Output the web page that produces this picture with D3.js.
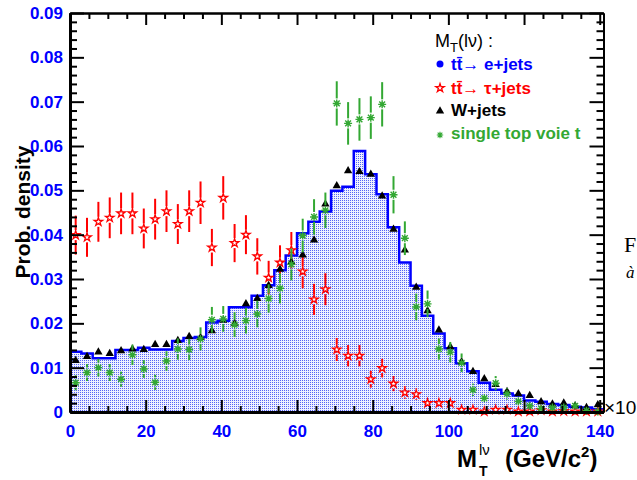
<!DOCTYPE html>
<html>
<head>
<meta charset="utf-8">
<script src="https://cdn.jsdelivr.net/npm/d3@7"></script>
<style>
body { margin: 0; background: #fff; }
svg { display: block; }
text { font-family: "Liberation Sans", Arial, sans-serif; }
</style>
</head>
<body>
<svg width="637" height="480"></svg>
<script>
// M_T(lv) distributions, 47 bins of 3 GeV from 0 to 141
const binWidth = 3

// tt -> e+jets (filled histogram)
const ttE = [0.0136, 0.0132, 0.0121, 0.0121, 0.0140, 0.0140, 0.0145, 0.0141, 0.0141, 0.0160,
	0.0167, 0.0169, 0.0202, 0.0206, 0.0236, 0.0236, 0.0262, 0.0286, 0.0320, 0.0353,
	0.0403, 0.0429, 0.0452, 0.0499, 0.0508, 0.0589, 0.0536, 0.0491, 0.0417, 0.0337,
	0.0285, 0.0217, 0.0177, 0.0144, 0.0110, 0.0092, 0.0066, 0.0050, 0.0042, 0.0037,
	0.0026, 0.0023, 0.0018, 0.0016, 0.0012, 0.0010, 0.0006]

// tt -> tau+jets (open red stars)
const ttTau = [0.0399, 0.0394, 0.0429, 0.0438, 0.0448, 0.0448, 0.0414, 0.0435, 0.0453, 0.0424,
	0.0453, 0.0472, 0.0371, 0.0483, 0.0381, 0.0400, 0.0351, 0.0303, 0.0337, 0.0365,
	0.0317, 0.0254, 0.0277, 0.0141, 0.0127, 0.0127, 0.0074, 0.0099, 0.0064, 0.0044,
	0.0040, 0.0020, 0.0020, 0.0020, 0.0005, 0.0005, 0.0001, 0.0005, 0.0005, 0.0001,
	0.0001, 0.0004, 0.0001, 0.0002, 0.0001, 0.0001, 0.0001]
const ttTauErr = [0.0044, 0.0044, 0.0045, 0.0046, 0.0047, 0.0047, 0.0045, 0.0046, 0.0047, 0.0045,
	0.0047, 0.0048, 0.0042, 0.0049, 0.0043, 0.0044, 0.0041, 0.0038, 0.0039, 0.0041,
	0.0038, 0.0035, 0.0036, 0.0026, 0.0024, 0.0024, 0.0019, 0.0021, 0.0017, 0.0014,
	0.0013, 0.0009, 0.0009, 0.0009, 0.0005, 0.0005, 0.0003, 0.0005, 0.0005, 0.0003,
	0.0003, 0.0004, 0.0003, 0.0003, 0.0003, 0.0003, 0.0003]

// W+jets (black triangles)
const wJets = [0.0116, 0.0125, 0.0135, 0.0132, 0.0138, 0.0142, 0.0141, 0.0152, 0.0152, 0.0161,
	0.0170, 0.0168, 0.0183, 0.0207, 0.0200, 0.0244, 0.0256, 0.0285, 0.0322, 0.0338,
	0.0354, 0.0388, 0.0469, 0.0510, 0.0544, 0.0542, 0.0536, 0.0487, 0.0412, 0.0365,
	0.0281, 0.0228, 0.0185, 0.0147, 0.0113, 0.0091, 0.0075, 0.0062, 0.0046, 0.0041,
	0.0037, 0.0023, 0.0018, 0.0020, 0.0014, 0.0010, 0.0016]

// single top voie t (green asterisks)
const singleTop = [0.0066, 0.0089, 0.0100, 0.0089, 0.0074, 0.0129, 0.0097, 0.0067, 0.0115, 0.0142,
	0.0141, 0.0165, 0.0208, 0.0210, 0.0197, 0.0206, 0.0221, 0.0256, 0.0279, 0.0333,
	0.0398, 0.0440, 0.0455, 0.0696, 0.0651, 0.0660, 0.0664, 0.0694, 0.0490, 0.0392,
	0.0237, 0.0244, 0.0142, 0.0135, 0.0111, 0.0050, 0.0031, 0.0065, 0.0041, 0.0024,
	0.0014, 0.0008, 0.0010, 0.0010, 0.0014, 0.0003, 0.0001]
const singleTopErr = [0.0017, 0.0019, 0.0020, 0.0019, 0.0017, 0.0023, 0.0020, 0.0017, 0.0022, 0.0024,
	0.0024, 0.0026, 0.0029, 0.0029, 0.0028, 0.0029, 0.0030, 0.0032, 0.0034, 0.0036,
	0.0038, 0.0040, 0.0040, 0.0050, 0.0048, 0.0048, 0.0048, 0.0050, 0.0042, 0.0038,
	0.0030, 0.0030, 0.0024, 0.0023, 0.0021, 0.0014, 0.0011, 0.0016, 0.0013, 0.0010,
	0.0008, 0.0006, 0.0006, 0.0006, 0.0008, 0.0004, 0.0002]

const xTicks = [0, 20, 40, 60, 80, 100, 120, 140]
const yTicks = [0, 0.01, 0.02, 0.03, 0.04, 0.05, 0.06, 0.07, 0.08, 0.09]

const svg = d3.select("svg")
const x = d3.scaleLinear().domain([0, 141]).range([70, 603.5])
const y = d3.scaleLinear().domain([0, 0.09]).range([412, 13])

const blue = "#0000ff", red = "#ff0000", green = "#33a833"

// dotted fill for the histogram
const pat = svg.append("defs").append("pattern")
	.attr("id", "dots").attr("patternUnits", "userSpaceOnUse")
	.attr("width", 2).attr("height", 2)
pat.append("rect").attr("width", 2).attr("height", 2).attr("fill", "#eef0ff")
pat.append("rect").attr("width", 1).attr("height", 1).attr("fill", "#5565f5")

// histogram
const histPts = ttE.map((v, i) => [i * binWidth, v])
histPts.push([ttE.length * binWidth, ttE[ttE.length - 1]])

svg.append("path")
	.datum(histPts)
	.attr("fill", "url(#dots)")
	.attr("d", d3.area().curve(d3.curveStepAfter)
		.x(d => x(d[0])).y0(y(0)).y1(d => y(d[1])))

svg.append("path")
	.datum(histPts)
	.attr("fill", "none")
	.attr("stroke", blue)
	.attr("stroke-width", 2.5)
	.attr("d", d3.line().curve(d3.curveStepAfter).x(d => x(d[0])).y(d => y(d[1])))

const cx = i => x((i + 0.5) * binWidth)

// error bars that leave a gap round the marker
function errorBars(vals, errs, color, gap) {
	const g = svg.append("g").attr("stroke", color).attr("stroke-width", 2)
	vals.forEach((v, i) => {
		const yc = y(v), yt = y(v + errs[i]), yb = y(Math.max(v - errs[i], 0))
		if (yc - gap > yt) g.append("line").attr("x1", cx(i)).attr("x2", cx(i)).attr("y1", yt).attr("y2", yc - gap)
		if (yb > yc + gap) g.append("line").attr("x1", cx(i)).attr("x2", cx(i)).attr("y1", yc + gap).attr("y2", yb)
	})
}

const starPath = d3.symbol().type(d3.symbolStar).size(22)()
const triPath = d3.symbol().type(d3.symbolTriangle).size(30)()
const asterisk = "M-4,0L4,0M0,-4L0,4M-2.9,-2.9L2.9,2.9M-2.9,2.9L2.9,-2.9"

// tau+jets
errorBars(ttTau, ttTauErr, red, 5)
svg.append("g").selectAll("path")
	.data(ttTau).enter().append("path")
	.attr("transform", (d, i) => "translate(" + cx(i) + "," + y(d) + ")")
	.attr("d", starPath)
	.attr("fill", "#fff").attr("stroke", red).attr("stroke-width", 1.3)

// W+jets
svg.append("g").selectAll("path")
	.data(wJets).enter().append("path")
	.attr("transform", (d, i) => "translate(" + cx(i) + "," + y(d) + ")")
	.attr("d", triPath)
	.attr("fill", "#000")

// single top
errorBars(singleTop, singleTopErr, green, 5)
const stG = svg.append("g").selectAll("g")
	.data(singleTop).enter().append("g")
	.attr("transform", (d, i) => "translate(" + cx(i) + "," + y(d) + ")")
stG.append("path").attr("d", asterisk).attr("stroke", green).attr("stroke-width", 1.4)
stG.append("circle").attr("r", 1.8).attr("fill", green)

// axes, ticks inside the frame
function minor(n, step, every) {
	return d3.range(0, n).filter(i => i % every !== 0).map(i => i * step)
}
const yMinor = minor(46, 0.002, 5)
const xMinor = minor(29, 5, 4)

function styleAxis(g, w) {
	g.select(".domain").attr("stroke", "#000").attr("stroke-width", w)
	g.selectAll(".tick line").attr("stroke", "#000").attr("stroke-width", 2)
}

const yLab = svg.append("g").attr("transform", "translate(70,0)")
	.call(d3.axisLeft(y).tickValues(yTicks).tickSize(-14).tickSizeOuter(0).tickPadding(7)
		.tickFormat(d => d === 0 ? "0" : d3.format(".2f")(d)))
styleAxis(yLab, 3)
yLab.selectAll("text").attr("fill", blue).style("font-size", "17px").style("font-weight", "bold")
	.style("font-family", "Liberation Sans, Arial, sans-serif")
svg.append("g").attr("transform", "translate(70,0)")
	.call(d3.axisLeft(y).tickValues(yMinor).tickSize(-7).tickSizeOuter(0).tickFormat(""))
	.call(g => styleAxis(g, 3))

svg.append("g").attr("transform", "translate(603.5,0)")
	.call(d3.axisRight(y).tickValues(yTicks).tickSize(-14).tickSizeOuter(0).tickFormat(""))
	.call(g => styleAxis(g, 2))
svg.append("g").attr("transform", "translate(603.5,0)")
	.call(d3.axisRight(y).tickValues(yMinor).tickSize(-7).tickSizeOuter(0).tickFormat(""))
	.call(g => styleAxis(g, 2))

const xLab = svg.append("g").attr("transform", "translate(0,412)")
	.call(d3.axisBottom(x).tickValues(xTicks).tickSize(-12).tickSizeOuter(0).tickPadding(13))
styleAxis(xLab, 3)
xLab.selectAll("text").attr("fill", blue).style("font-size", "17px").style("font-weight", "bold")
	.style("font-family", "Liberation Sans, Arial, sans-serif")
svg.append("g").attr("transform", "translate(0,412)")
	.call(d3.axisBottom(x).tickValues(xMinor).tickSize(-6).tickSizeOuter(0).tickFormat(""))
	.call(g => styleAxis(g, 3))

svg.append("g").attr("transform", "translate(0,13)")
	.call(d3.axisTop(x).tickValues(xTicks).tickSize(-12).tickSizeOuter(0).tickFormat(""))
	.call(g => styleAxis(g, 2))
svg.append("g").attr("transform", "translate(0,13)")
	.call(d3.axisTop(x).tickValues(xMinor).tickSize(-6).tickSizeOuter(0).tickFormat(""))
	.call(g => styleAxis(g, 2))

// axis titles
svg.append("text")
	.attr("transform", "translate(30,212) rotate(-90)")
	.attr("text-anchor", "middle")
	.style("font-size", "21px").style("font-weight", "bold")
	.text("Prob. density")

// M_T^{lv} (GeV/c^2) as one text element
const xt = svg.append("text").attr("x", 457).attr("y", 467)
	.style("font-size", "24px").style("font-weight", "bold")
xt.append("tspan").text("M")
xt.append("tspan").attr("x", 479).attr("dy", 9).style("font-size", "14px").text("T")
xt.append("tspan").attr("x", 479).attr("dy", -21).style("font-size", "15px")
	.style("font-weight", "normal").text("lν")
xt.append("tspan").attr("x", 505).attr("dy", 12).text("(GeV/c")
xt.append("tspan").attr("dy", -10).style("font-size", "15px").text("2")
xt.append("tspan").attr("dy", 10).text(")")

svg.append("text").attr("x", 604).attr("y", 414)
	.style("font-size", "19px").text("×10")

// legend
const lt = svg.append("text").attr("x", 435).attr("y", 47).style("font-size", "18px")
lt.append("tspan").text("M")
lt.append("tspan").attr("dy", 5).style("font-size", "13px").text("T")
lt.append("tspan").attr("dy", -5).text("(lν) :")

const legend = [
	{label: "tt\u0304\u2192 e+jets", color: blue, y: 70},
	{label: "tt\u0304\u2192 \u03c4+jets", color: red, y: 94},
	{label: "W+jets", color: "#000", y: 116},
	{label: "single top voie t", color: green, y: 139}
]
svg.append("g").selectAll("text")
	.data(legend).enter().append("text")
	.attr("x", 451).attr("y", d => d.y)
	.attr("fill", d => d.color)
	.style("font-size", "17px").style("font-weight", "bold")
	.text(d => d.label)

svg.append("circle").attr("cx", 440).attr("cy", 64).attr("r", 3.5).attr("fill", blue)
svg.append("path").attr("transform", "translate(440,88)").attr("d", starPath)
	.attr("fill", "#fff").attr("stroke", red).attr("stroke-width", 1.3)
svg.append("path").attr("transform", "translate(440,111)").attr("d", triPath).attr("fill", "#000")
svg.append("path").attr("transform", "translate(440,135) scale(0.8)").attr("d", asterisk)
	.attr("stroke", green).attr("stroke-width", 1.4)
svg.append("circle").attr("cx", 440).attr("cy", 135).attr("r", 1.4).attr("fill", green)

// bits of the surrounding page text, cut by the right edge as in the reference
svg.append("text").attr("x", 624).attr("y", 252)
	.style("font-family", "Liberation Serif, serif").style("font-size", "22px").text("F")
svg.append("text").attr("x", 626).attr("y", 278)
	.style("font-family", "Liberation Serif, serif").style("font-style", "italic")
	.style("font-size", "17px").text("à")
</script>
</body>
</html>
